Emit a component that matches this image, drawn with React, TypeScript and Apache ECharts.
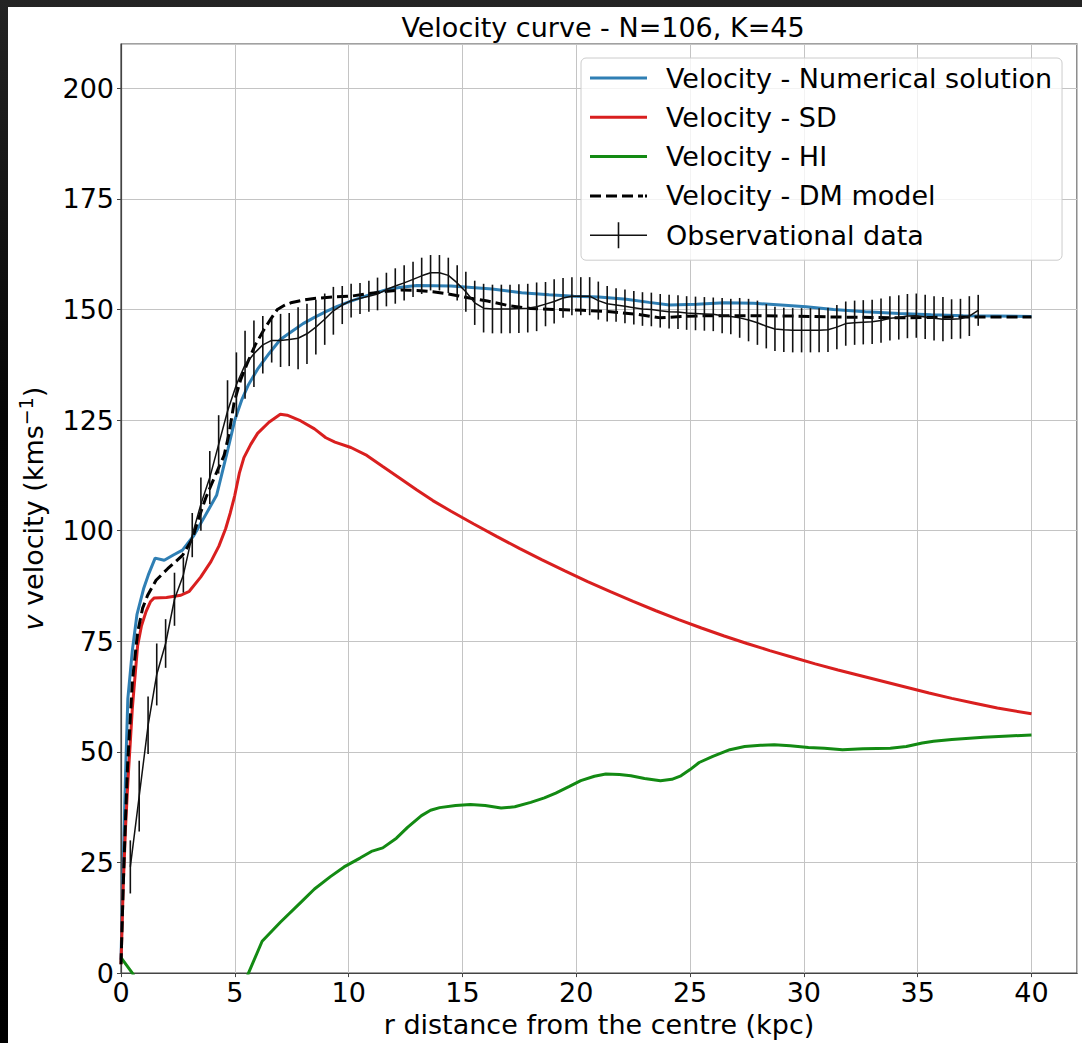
import React, { useEffect, useRef } from "react";
import * as echarts from "echarts";

const FONT = "DejaVu Sans";

const TITLE = "Velocity curve - N=106, K=45";
const X_NAME = "r distance from the centre (kpc)";
const SERIES_NAMES = [
  "Velocity - Numerical solution",
  "Velocity - SD",
  "Velocity - HI",
  "Velocity - DM model",
  "Observational data",
];

// [r (kpc), v (km/s)]
const numerical: number[][] = [
  [0, 3], [0.1, 25], [0.2, 45], [0.3, 62], [0.5, 73], [0.7, 81], [1.0, 87], [1.2, 90], [1.5, 93.8], [1.9, 93.3],
  [2.3, 94.5], [2.7, 95.6], [3.2, 98.9], [3.6, 102.5], [4.2, 108], [4.7, 118.5], [5.0, 125], [5.3, 129.5],
  [5.6, 133], [6.0, 136.5], [6.5, 140], [7.0, 143.2], [7.5, 145], [8.0, 146.8], [8.5, 148.2], [9.0, 149.5],
  [9.5, 150.7], [10.1, 151.9], [10.9, 153.3], [11.7, 154.5], [12.3, 155], [13.0, 155.4], [14.5, 155.3],
  [15.1, 155.1], [16.3, 154.6], [17.6, 153.8], [18.8, 153.3], [19.9, 153], [21, 152.8], [22.2, 152.3],
  [23.2, 151.6], [24.1, 151], [25.3, 151.2], [26.5, 151.5], [27.8, 151.4], [29, 151], [30.1, 150.6],
  [31.3, 150], [32.7, 149.5], [34.2, 149.1], [35.6, 148.8], [37, 148.6], [38.5, 148.5], [40, 148.4],
];

const sd: number[][] = [
  [0, 2], [0.1, 20], [0.2, 33], [0.3, 43], [0.5, 60], [0.73, 74], [0.9, 78.5], [1.1, 81.7], [1.3, 84],
  [1.46, 84.8], [2.0, 84.9], [2.63, 85.4], [3.0, 86.3], [3.5, 89.5], [3.95, 93], [4.3, 96.5], [4.6, 100.5],
  [4.8, 104], [5.0, 108], [5.2, 113], [5.4, 116.5], [5.7, 119.5], [6.0, 122], [6.5, 124.5], [7.0, 126.3],
  [7.3, 126.1], [7.9, 124.8], [8.5, 123], [9.0, 121], [9.4, 120], [10.1, 118.8], [10.8, 117], [11.5, 114.5],
  [12.3, 111.7], [13.0, 109.2], [13.7, 106.8], [14.5, 104.4], [15.5, 101.5], [16.5, 98.7], [17.5, 96],
  [18.5, 93.4], [19.5, 90.9], [20.5, 88.5], [21.5, 86.2], [22.5, 84], [23.5, 81.9], [24.5, 79.9], [25.5, 78],
  [26.5, 76.2], [27.5, 74.5], [28.5, 72.9], [29.5, 71.4], [30.5, 69.9], [31.5, 68.5], [32.5, 67.2],
  [33.5, 65.9], [34.5, 64.6], [35.5, 63.3], [36.5, 62.1], [37.5, 61], [38.5, 59.9], [40, 58.6],
];

// HI goes below zero (clipped by the axis) between ~0.5 and ~5.6 kpc
const hi: (number[] | null)[] = [
  [0, 3.5], [0.5, 0], [0.8, -3], null, [5.4, -3], [5.6, 0], [6.2, 7.2], [7.0, 11.5], [7.9, 16], [8.5, 19],
  [9.2, 21.8], [9.8, 24], [10.5, 26], [11.0, 27.5], [11.5, 28.3], [12.1, 30.5], [12.6, 33], [13.2, 35.6],
  [13.6, 36.8], [14.0, 37.4], [14.7, 37.9], [15.35, 38.1], [16.0, 37.9], [16.7, 37.3], [17.3, 37.6],
  [18, 38.6], [18.6, 39.6], [19.1, 40.7], [19.7, 42.2], [20.2, 43.5], [20.8, 44.5], [21.3, 45], [21.9, 44.9],
  [22.4, 44.6], [23.0, 44], [23.7, 43.5], [24.2, 43.8], [24.6, 44.6], [25.0, 46], [25.4, 47.6], [26, 49],
  [26.75, 50.5], [27.4, 51.2], [28.1, 51.5], [28.7, 51.6], [29.4, 51.4], [30.2, 51], [30.9, 50.8],
  [31.7, 50.5], [32.6, 50.7], [33.8, 50.8], [34.5, 51.2], [35.2, 52], [35.7, 52.4], [36.5, 52.8],
  [37.9, 53.3], [39, 53.6], [40, 53.8],
];

const dm: number[][] = [
  [0, 2], [0.1, 20], [0.2, 35], [0.29, 47], [0.5, 66], [0.73, 77], [0.95, 82.5], [1.17, 85.4], [1.54, 88.8],
  [2.05, 91.4], [2.7, 94.4], [3.14, 98.2], [3.36, 102], [3.73, 107.5], [4.1, 112], [4.53, 117], [4.75, 122],
  [4.97, 129], [5.25, 134], [5.56, 138], [5.9, 142], [6.29, 145.5], [6.6, 148], [6.87, 150], [7.2, 151],
  [7.46, 151.5], [8.0, 152.1], [8.48, 152.5], [9.3, 152.8], [10.1, 153], [10.9, 153.6], [11.7, 154.1],
  [12.3, 154.4], [13.0, 154.3], [13.7, 154], [14.5, 153.4], [15.3, 152.6], [16.1, 151.9], [17, 150.9],
  [18, 150.2], [19, 150], [20.3, 149.8], [21.5, 149.5], [22.7, 148.9], [23.7, 148.1], [24.6, 148.4],
  [25.6, 148.6], [27.5, 148.6], [29.5, 148.5], [31.3, 148.3], [33, 148.2], [34.2, 148.1], [35.6, 148.2],
  [37, 148.3], [38.5, 148.3], [40, 148.3],
];

const obsR: number[] = [
  0.41, 0.8, 1.19, 1.57, 1.96, 2.35, 2.74, 3.13, 3.51, 3.9, 4.29, 4.68, 5.07, 5.45, 5.84, 6.23, 6.62, 7.01,
  7.39, 7.78, 8.17, 8.56, 8.95, 9.33, 9.72, 10.11, 10.5, 10.89, 11.27, 11.66, 12.05, 12.44, 12.83, 13.21,
  13.6, 13.99, 14.38, 14.77, 15.15, 15.54, 15.93, 16.32, 16.71, 17.09, 17.48, 17.87, 18.26, 18.65, 19.03,
  19.42, 19.81, 20.2, 20.59, 20.97, 21.36, 21.75, 22.14, 22.53, 22.91, 23.3, 23.69, 24.08, 24.47, 24.85,
  25.24, 25.63, 26.02, 26.41, 26.79, 27.18, 27.57, 27.96, 28.35, 28.73, 29.12, 29.51, 29.9, 30.29, 30.67,
  31.06, 31.45, 31.84, 32.23, 32.61, 33.0, 33.39, 33.78, 34.17, 34.55, 34.94, 35.33, 35.72, 36.11, 36.49,
  36.88, 37.27, 37.66,
];
const obsV: number[] = [
  24, 40, 56, 67.5, 74.5, 84.5, 90, 99, 106, 112, 119.5, 127, 133, 137.5, 140, 142, 143, 143, 143.2, 143.5,
  144.5, 146, 147.8, 149.7, 151, 152, 152.5, 153, 153.5, 154.5, 155.3, 156, 156.8, 157.6, 158.3, 158.3,
  157.7, 156, 154, 151.5, 150.3, 150.1, 150.1, 150.1, 150.2, 150.3, 150.6, 151.2, 151.8, 152.6, 153, 153,
  153, 152, 151.3, 151, 150.7, 150.4, 150.1, 150, 149.7, 149.5, 149.4, 149.2, 149.1, 149, 148.9, 148.6,
  148.4, 148.1, 147.6, 147, 146.2, 145.6, 145.4, 145.3, 145.3, 145.3, 145.3, 145.4, 146, 146.8, 147, 147.1,
  147.2, 147.5, 148, 148.2, 148.5, 148.6, 148.3, 148, 147.8, 147.8, 147.9, 148.5, 149.8,
];
const obsErr: number[] = [
  6, 8, 6.5, 7, 5.5, 6, 4, 5, 6, 6, 6.6, 7, 7.3, 7.7, 7.5, 6.5, 5, 6, 6, 7, 6.8, 6.2, 5.8, 5.4, 4.3, 3.8,
  3.5, 3.5, 3.7, 3.8, 4, 4, 4, 4.1, 4, 4, 4, 4, 4.5, 5, 5.5, 5.5, 5.5, 5.5, 5.5, 5.5, 5.5, 5, 5, 4.5, 4.3,
  4.3, 4.3, 4.3, 4, 3.8, 3.8, 3.8, 3.8, 3.8, 3.8, 3.8, 3.8, 3.8, 3.8, 3.8, 3.8, 4, 4, 4.5, 4.8, 5, 5, 5,
  5, 5, 5, 5, 5, 5, 5, 5, 5, 5, 5, 5, 5, 5, 5, 5, 5, 5, 5, 4.5, 4.5, 4.5, 3.5,
];

const X_MIN = 0;
const X_MAX = 42;
const X_STEP = 5;
const Y_MIN = 0;
const Y_MAX = 210;
const Y_STEP = 25;

const BLUE = "#2f7fb4";
const RED = "#d91f1f";
const GREEN = "#138a13";
const BLACK = "#000000";

const FS = 27;

const ICON_SOLID = "path://M0,0h57v3h-57z";
const ICON_DASHED = "path://M0,0h11v3h-11z M16,0h11v3h-11z M32,0h11v3h-11z M48,0h5v3h-5z M55,0h2v3h-2z";
const ICON_ERR = "path://M0,12.2h57v1.6h-57z M27.7,0h1.6v26h-1.6z";

export default function App() {
  const ref = useRef<HTMLDivElement>(null);

  useEffect(() => {
    if (!ref.current) return;
    const chart = echarts.init(ref.current, undefined, { renderer: "svg" });

    const obsLine = obsR.map((r, i) => [r, obsV[i]]);
    const obsBars = obsR.map((r, i) => [r, obsV[i] - obsErr[i], obsV[i] + obsErr[i]]);

    const axisLabel = { fontFamily: FONT, fontSize: FS, color: "#000" };

    chart.setOption({
      animation: false,
      backgroundColor: "#ffffff",
      title: {
        text: TITLE,
        left: 590,
        top: 2,
        textAlign: "center",
        textStyle: { fontFamily: FONT, fontSize: FS, fontWeight: "normal", color: "#000" },
      },
      legend: {
        orient: "vertical",
        left: 573,
        top: 51,
        itemWidth: 57,
        itemHeight: 26,
        itemGap: 9.3,
        padding: [5, 10, 10, 9],
        backgroundColor: "rgba(255,255,255,0.8)",
        borderColor: "#cccccc",
        borderWidth: 1,
        borderRadius: 5,
        textStyle: {
          fontFamily: FONT,
          fontSize: FS,
          color: "#000",
          lineHeight: 30,
          padding: [0, 0, 0, 14],
        },
        data: [
          { name: SERIES_NAMES[0], icon: ICON_SOLID, itemStyle: { color: BLUE } },
          { name: SERIES_NAMES[1], icon: ICON_SOLID, itemStyle: { color: RED } },
          { name: SERIES_NAMES[2], icon: ICON_SOLID, itemStyle: { color: GREEN } },
          { name: SERIES_NAMES[3], icon: ICON_DASHED, itemStyle: { color: BLACK } },
          { name: SERIES_NAMES[4], icon: ICON_ERR, itemStyle: { color: "#111" } },
        ],
      },
      grid: {
        left: 112,
        right: 5,
        top: 37,
        bottom: 67,
        show: true,
        borderColor: "#444",
        borderWidth: 1.2,
        backgroundColor: "transparent",
      },
      xAxis: {
        type: "value",
        min: X_MIN,
        max: X_MAX,
        interval: X_STEP,
        name: X_NAME,
        nameLocation: "middle",
        nameGap: 35,
        nameTextStyle: { fontFamily: FONT, fontSize: FS, color: "#000" },
        axisLine: { show: true, onZero: false, lineStyle: { color: "#444", width: 1.2 } },
        axisTick: { show: true, length: 4, lineStyle: { color: "#444" } },
        axisLabel: { ...axisLabel, margin: 6, showMaxLabel: false },
        splitLine: { show: true, lineStyle: { color: "#c4c4c4", width: 1 } },
      },
      yAxis: {
        type: "value",
        min: Y_MIN,
        max: Y_MAX,
        interval: Y_STEP,
        name: "{i|v} velocity (kms{sup|−1})",
        nameLocation: "middle",
        nameRotate: 90,
        nameGap: 71,
        nameTextStyle: {
          fontFamily: FONT,
          fontSize: FS,
          color: "#000",
          rich: {
            i: { fontFamily: FONT, fontSize: FS, fontStyle: "italic", color: "#000" },
            sup: { fontFamily: FONT, fontSize: 19, color: "#000", padding: [0, 0, 15, 0] },
          },
        },
        axisLine: { show: true, onZero: false, lineStyle: { color: "#444", width: 1.2 } },
        axisTick: { show: true, length: 4, lineStyle: { color: "#444" } },
        axisLabel: { ...axisLabel, margin: 7, showMaxLabel: false },
        splitLine: { show: true, lineStyle: { color: "#c4c4c4", width: 1 } },
      },
      series: [
        {
          name: SERIES_NAMES[0],
          type: "line",
          data: numerical,
          showSymbol: false,
          symbol: "none",
          lineStyle: { color: BLUE, width: 3 },
          itemStyle: { color: BLUE },
          z: 3,
        },
        {
          name: SERIES_NAMES[1],
          type: "line",
          data: sd,
          showSymbol: false,
          symbol: "none",
          lineStyle: { color: RED, width: 3 },
          itemStyle: { color: RED },
          z: 3,
        },
        {
          name: SERIES_NAMES[2],
          type: "line",
          data: hi,
          connectNulls: false,
          showSymbol: false,
          symbol: "none",
          lineStyle: { color: GREEN, width: 3 },
          itemStyle: { color: GREEN },
          z: 3,
        },
        {
          name: SERIES_NAMES[3],
          type: "line",
          data: dm,
          showSymbol: false,
          symbol: "none",
          lineStyle: { color: BLACK, width: 3, type: [11, 5] },
          itemStyle: { color: BLACK },
          z: 4,
        },
        {
          name: SERIES_NAMES[4],
          type: "line",
          data: obsLine,
          showSymbol: false,
          symbol: "none",
          lineStyle: { color: "#111", width: 1.5 },
          itemStyle: { color: "#111" },
          z: 5,
        },
        {
          name: SERIES_NAMES[4],
          type: "custom",
          data: obsBars,
          encode: { x: 0, y: [1, 2] },
          z: 5,
          renderItem: (_params: any, api: any) => {
            const r = api.value(0);
            const p1 = api.coord([r, api.value(1)]);
            const p2 = api.coord([r, api.value(2)]);
            return {
              type: "line",
              shape: { x1: p1[0], y1: p1[1], x2: p2[0], y2: p2[1] },
              style: { stroke: "#111", lineWidth: 1.6 },
            };
          },
        },
      ],
    });

    return () => chart.dispose();
  }, []);

  return (
    <div
      style={{
        position: "absolute",
        left: 0,
        top: 0,
        width: 1082,
        height: 1043,
        background: "linear-gradient(#242424, #050505 40%, #000000)",
        overflow: "hidden",
      }}
    >
      <div
        ref={ref}
        style={{ position: "absolute", left: 8, top: 7, width: 1074, height: 1036, background: "#fff" }}
      />
    </div>
  );
}
